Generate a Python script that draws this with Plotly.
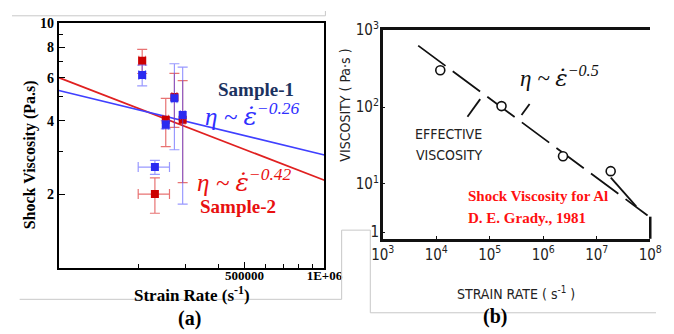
import plotly.graph_objects as go

# ---------------- data ----------------
# panel (a): shock viscosity vs strain rate (two samples)
rate = [206000, 230000, 252700, 272400, 292600]
rate_err = [6000, 31000, 6000, 6000, 6000]
visc_s2 = [7.04, 2.0, 4.03, 5.0, 4.03]
err_s2 = [0.8, 0.33, 0.9, 1.25, 1.8]
visc_s1 = [6.15, 2.58, 3.85, 4.94, 4.22]
err_s1 = [0.6, 0.17, 0.15, 1.9, 2.4]
fit_rate = [1e5, 1e6]
fit_s2 = [6.0, 2.28]
fit_s1 = [5.32, 2.89]
xa_ticks = [500000, 1000000]
xa_labels = ["500000", "1E+06"]
xa_minor = [200000, 300000, 400000, 600000, 700000, 800000, 900000]
ya_ticks = [2, 4, 6, 8, 10]
ya_minor = [3, 5, 7, 9]

# panel (b): Grady 1981 effective viscosity for Al
grady_rate = [1.19e4, 1.66e5, 2.34e6, 1.82e7]
grady_visc = [301, 103, 23, 14.7]
grady_fit_rate = [4.6e3, 8.9e7]
grady_fit_visc = [630, 3.9]
xb_ticks = [1e3, 1e4, 1e5, 1e6, 1e7, 1e8]
xb_labels = ["10<sup>3</sup>", "10<sup>4</sup>", "10<sup>5</sup>", "10<sup>6</sup>", "10<sup>7</sup>", "10<sup>8</sup>"]
yb_ticks = [1e3, 1e2, 1e1, 2.37]
yb_labels = ["10<sup>3</sup>", "10<sup>2</sup>", "10<sup>1</sup>", "1"]

# ---------------- layout helpers ----------------
W, H = 674, 334
def X(p):
    return p / W
def Y(p):
    return 1 - p / H

SERIF = "Liberation Serif, Times New Roman, serif"
NARROW = "Liberation Sans Narrow, DejaVu Sans Condensed, Arial Narrow, sans-serif"
BLUE = "#2f2fff"

fig = go.Figure()

# fit lines (a)
fig.add_trace(go.Scatter(x=fit_rate, y=fit_s2, mode="lines", line=dict(color="#e02020", width=1.7),
                         xaxis="x", yaxis="y", showlegend=False))
fig.add_trace(go.Scatter(x=fit_rate, y=fit_s1, mode="lines", line=dict(color="#4040ff", width=1.6),
                         xaxis="x", yaxis="y", showlegend=False))
# data (a)
fig.add_trace(go.Scatter(x=rate, y=visc_s2, mode="markers",
                         marker=dict(symbol="square", size=8, color="#cc0000"),
                         error_y=dict(type="data", array=err_s2, color="rgba(220,40,40,0.65)", thickness=1.2, width=5),
                         error_x=dict(type="data", array=rate_err, color="rgba(220,40,40,0.65)", thickness=1.2, width=5),
                         xaxis="x", yaxis="y", showlegend=False))
fig.add_trace(go.Scatter(x=rate, y=visc_s1, mode="markers",
                         marker=dict(symbol="square", size=8, color="#2b2bf0"),
                         error_y=dict(type="data", array=err_s1, color="rgba(70,70,255,0.55)", thickness=1.2, width=5),
                         error_x=dict(type="data", array=rate_err, color="rgba(70,70,255,0.55)", thickness=1.2, width=5),
                         xaxis="x", yaxis="y", showlegend=False))

# panel (b)
fig.add_trace(go.Scatter(x=grady_fit_rate, y=grady_fit_visc, mode="lines",
                         line=dict(color="#111", width=1.8, dash="34px,9px"),
                         xaxis="x2", yaxis="y2", showlegend=False))
fig.add_trace(go.Scatter(x=grady_rate, y=grady_visc, mode="markers",
                         marker=dict(symbol="circle", size=9, color="white", line=dict(color="#111", width=1.6)),
                         xaxis="x2", yaxis="y2", showlegend=False))

bold_tick = dict(family=SERIF, size=13, color="black", weight="bold")

fig.update_layout(
    width=W, height=H, margin=dict(l=0, r=0, t=0, b=0),
    paper_bgcolor="white", plot_bgcolor="white",
    xaxis=dict(type="log", range=[5, 6], domain=[X(49), X(327)], anchor="y",
               showline=True, linecolor="black", linewidth=2, mirror=True,
               ticks="inside", ticklen=6, tickcolor="black", ticklabelstandoff=-5,
               tickvals=xa_ticks, ticktext=xa_labels, tickfont=bold_tick,
               minor=dict(tickvals=xa_minor, ticks="inside", ticklen=4, tickcolor="black"),
               showgrid=False, zeroline=False),
    yaxis=dict(type="log", range=[0, 1], domain=[Y(267), Y(13)], anchor="x",
               showline=True, linecolor="black", linewidth=2, mirror=True,
               ticks="inside", ticklen=6, tickcolor="black",
               tickvals=ya_ticks, ticktext=[str(v) for v in ya_ticks],
               tickfont=dict(family=SERIF, size=14, color="black", weight="bold"),
               minor=dict(tickvals=ya_minor, ticks="inside", ticklen=4, tickcolor="black"),
               showgrid=False, zeroline=False),
    xaxis2=dict(type="log", range=[3, 8], domain=[X(388), X(668)], anchor="y2",
                showline=True, linecolor="#111", linewidth=2.5, mirror=True,
                ticks="inside", ticklen=3, tickcolor="#111",
                tickvals=xb_ticks, ticktext=xb_labels,
                tickfont=dict(family=NARROW, size=15, color="#222"),
                showgrid=False, zeroline=False),
    yaxis2=dict(type="log", range=[0.2875, 3], domain=[Y(237), Y(20)], anchor="x2",
                showline=True, linecolor="#111", linewidth=2.5, mirror=False,
                ticks="inside", ticklen=3, tickcolor="#111", ticklabelstandoff=-2,
                tickvals=yb_ticks, ticktext=yb_labels,
                tickfont=dict(family=NARROW, size=15, color="#222"),
                showgrid=False, zeroline=False),
)

ann = []
def text(x, y, t, size, color="black", family=SERIF, weight="normal", style="normal", angle=0, xanchor="center"):
    ann.append(dict(x=X(x), y=Y(y), xref="paper", yref="paper", text=t, showarrow=False,
                    xanchor=xanchor, yanchor="middle", textangle=angle,
                    font=dict(family=family, size=size, color=color, weight=weight, style=style)))

eps = "<span style='font-family:DejaVu Serif'>\u03b5\u0307</span>"
# panel (a) texts
text(188, 294, "Strain Rate (s<sup>-1</sup>)", 17, weight="bold")
text(19, 150, "Shock Viscosity (Pa.s)", 16, weight="bold", angle=-90)
text(186, 320, "(a)", 20, weight="bold")
text(255, 82, "Sample-1", 19, color="#1b3260", weight="bold")
text(252, 108, "\u03b7 ~ " + eps + "<sup>\u22120.26</sup>", 25, color=BLUE, style="italic")
text(243, 176, "\u03b7 ~ " + eps + "<sup>\u22120.42</sup>", 25, color="#e81010", style="italic")
text(237, 203, "Sample-2", 19, color="#e81010", weight="bold")
# panel (b) texts
text(527, 293, "STRAIN RATE ( s<sup>-1</sup> )", 14, color="#222", family=NARROW)
text(349, 98, "VISCOSITY ( Pa\u00b7s )", 14, color="#222", family=NARROW, angle=-90)
text(506, 318, "(b)", 20, weight="bold")
text(573, 68, "\u03b7 ~ " + eps + "<sup>\u22120.5</sup>", 23, color="#111", style="italic")
text(457, 128, "EFFECTIVE", 14, color="#222", family=NARROW)
text(457, 150, "VISCOSITY", 14, color="#222", family=NARROW)
text(475, 193, "Shock Viscosity for Al", 15, color="#ff1010", weight="bold", xanchor="left")
text(475, 215, "D. E. Grady., 1981", 15, color="#ff1010", weight="bold", xanchor="left")
fig.update_layout(annotations=ann)

# decorative strokes and frame lines (paper pixel coords)
shapes = []
def seg(x0, y0, x1, y1, color="#111", width=1.8):
    shapes.append(dict(type="line", xref="paper", yref="paper", x0=X(x0), y0=Y(y0), x1=X(x1), y1=Y(y1),
                       line=dict(color=color, width=width)))
seg(476.7, 110, 490, 91.7)
seg(533.3, 108.3, 541.7, 96.7)
seg(626.7, 173.3, 653.3, 203.3)
seg(668, 214, 668, 237, width=2.5)
G = "#c8c8c8"
seg(0, 5, 328, 5, G, 1)
seg(328, 0, 328, 5, G, 1)
seg(8, 300, 345, 300, G, 1)
seg(345, 228, 345, 300, G, 1)
seg(345, 228, 375, 228, G, 1)
seg(375, 228, 375, 314, G, 1)
seg(375, 314, 674, 314, G, 1)
fig.update_layout(shapes=shapes)

fig.write_html("out.html")
